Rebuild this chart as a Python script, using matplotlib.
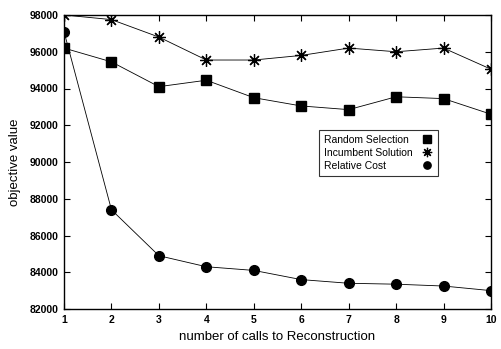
import matplotlib.pyplot as plt

# --- DATA ---
calls = [1, 2, 3, 4, 5, 6, 7, 8, 9, 10]
random_selection = [96200, 95450, 94100, 94450, 93500, 93050, 92850, 93550, 93450, 92600]
incumbent_solution = [98000, 97750, 96800, 95550, 95550, 95800, 96200, 96000, 96200, 95050]
relative_cost = [97100, 87400, 84900, 84300, 84100, 83600, 83400, 83350, 83250, 83000]

x_ticks = list(range(1, 11))
y_ticks = list(range(82000, 98001, 2000))

plt.rcParams['font.family'] = ['Liberation Sans', 'DejaVu Sans']

fig = plt.figure(figsize=(5.01, 3.49), dpi=100)
ax = fig.add_axes([64 / 501, 40 / 349, 427 / 501, 294 / 349])

line_kw = dict(color='black', linewidth=0.6)
ax.plot(calls, random_selection, marker='s', markersize=7, label='Random Selection', **line_kw)
ax.plot(calls, incumbent_solution, marker=(8, 2, 0), markersize=9, markeredgewidth=0.9,
        label='Incumbent Solution', **line_kw)
ax.plot(calls, relative_cost, marker='o', markersize=7, label='Relative Cost', **line_kw)

ax.set_xlim(1, 10)
ax.set_ylim(82000, 98000)
ax.set_xticks(x_ticks)
ax.set_yticks(y_ticks)
ax.tick_params(direction='in', top=True, right=True, length=4, width=0.8, labelsize=7.5, pad=4)
for lab in ax.get_xticklabels() + ax.get_yticklabels():
    lab.set_fontweight('bold')
for s in ax.spines.values():
    s.set_linewidth(1.0)

ax.set_xlabel('number of calls to Reconstruction', fontsize=9.5, labelpad=5)
ax.set_ylabel('objective value', fontsize=9.5, labelpad=6)

leg = ax.legend(loc='upper left', bbox_to_anchor=(255 / 427, 1 - 115 / 294), markerfirst=False,
                fontsize=7.5, frameon=True, fancybox=False, edgecolor='black', handlelength=1.2,
                borderpad=0.45, labelspacing=0.3, handletextpad=0.8, markerscale=0.75,
                borderaxespad=0)
leg.get_frame().set_linewidth(0.8)
for h in leg.get_lines():
    h.set_linestyle('none')

# left-align the legend texts, markers kept in one column (sep is in points)
fig.canvas.draw()
renderer = fig.canvas.get_renderer()
px_per_pt = renderer.points_to_pixels(1.0)
widths = [t.get_window_extent(renderer).width for t in leg.get_texts()]
rows = leg._legend_handle_box.get_children()[0].get_children()
for row, w in zip(rows, widths):
    row.sep = row.sep + (max(widths) - w) / px_per_pt

fig.savefig('out.png', dpi=100)
